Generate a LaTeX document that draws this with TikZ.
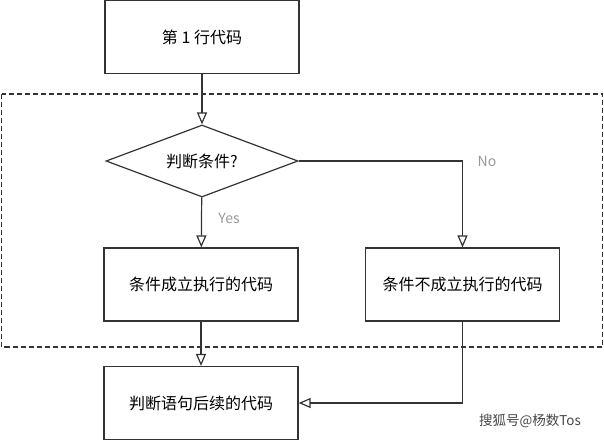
\documentclass[tikz,border=0pt]{standalone}
\usepackage{fontspec}
\setmainfont{Noto Sans CJK SC}
\usetikzlibrary{arrows.meta,shapes.geometric}
\definecolor{ln}{HTML}{333333}
\definecolor{lbl}{HTML}{999999}
\begin{document}
\begin{tikzpicture}[x=1pt,y=-1pt,
  box/.style={draw=ln,line width=1.2pt,minimum width=194pt,minimum height=73pt,inner sep=0pt,font=\fontsize{16}{18}\selectfont},
  dec/.style={draw=ln,line width=1.2pt,diamond,aspect=2.67,minimum width=192pt,minimum height=72pt,inner sep=0pt,font=\fontsize{16}{18}\selectfont},
  conn/.style={draw=ln,line width=1.2pt,-{Triangle[open,length=12pt,width=10pt]}},
  lab/.style={text=lbl,font=\fontsize{14}{16}\selectfont}]
\useasboundingbox (0,0) rectangle (604,440);
\fill[white] (0,0) rectangle (604,440);
\draw[ln,line width=1.2pt,dash pattern=on 5pt off 3pt] (1.5,94) rectangle (602.5,347);
\node[box] (start) at (202,37) {第 1 行代码};
\node[dec] (cond) at (202,161) {判断条件?};
\node[box] (yes) at (201,284.5) {条件成立执行的代码};
\node[box] (no) at (462.5,284.5) {条件不成立执行的代码};
\node[box] (next) at (201,403) {判断语句后续的代码};
\draw[conn] (start) -- (cond);
\draw[conn] (cond) -- (yes);
\draw[conn] (cond.east) -| (no.north);
\draw[conn] (yes) -- (next);
\draw[conn] (no.south) |- (next.east);
\node[lab] (ylab) at (229,218) {Yes};
\node[lab] (nlab) at (487,161) {No};
\node[text=ln!90,font=\fontsize{13.5}{15}\selectfont] (wm) at (530,421) {搜狐号@杨数Tos};
\end{tikzpicture}
\end{document}
